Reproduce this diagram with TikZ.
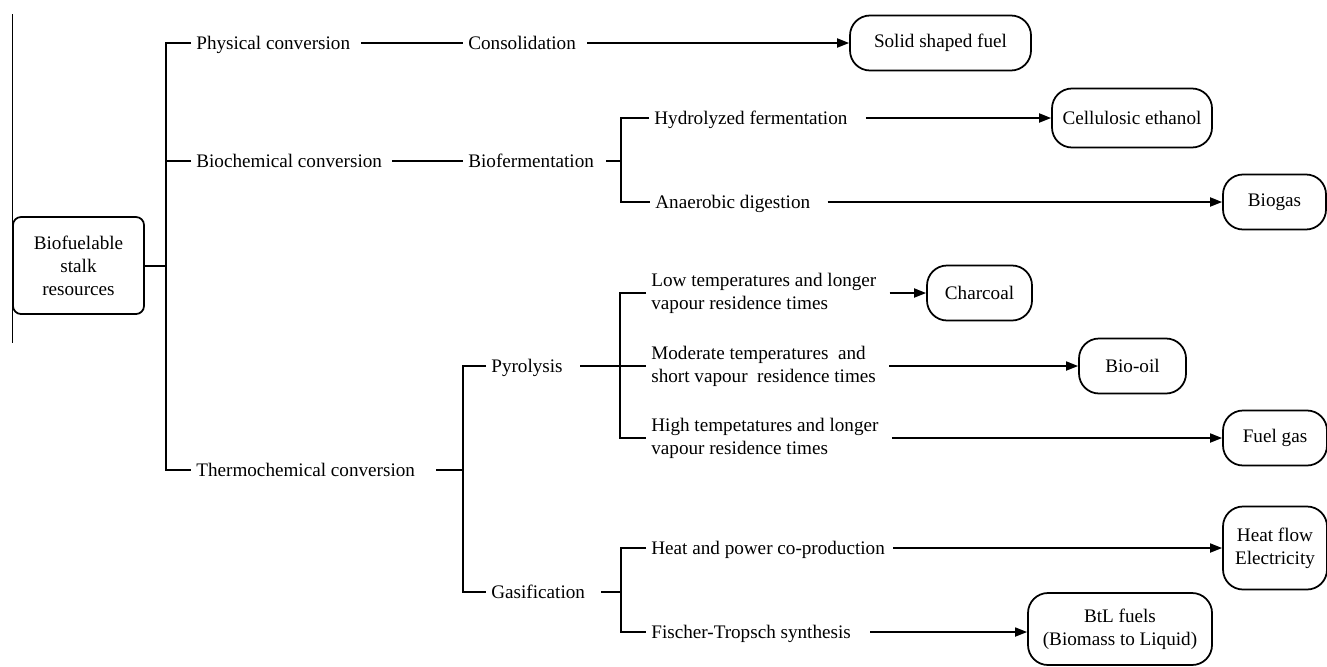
\documentclass[tikz,border=0pt]{standalone}
\usepackage{fontspec}
\setmainfont{Liberation Serif}
\usetikzlibrary{
    arrows.meta,
    positioning
}
\tikzset{
    % Box styles
    source box/.style={
        draw,
        line width=1pt,
        rectangle,
        rounded corners=1.6mm,
        inner sep=0pt,
        minimum width=26.2mm,
        minimum height=19.4mm,
        align=center
    },
    result box/.style={
        draw,
        line width=1pt,
        rectangle,
        rounded corners=4mm,
        inner sep=0pt,
        minimum height=11mm,
        align=center
    },
    % Label styles
    step label/.style={
        anchor=west,
        inner xsep=1mm,
        inner ysep=0pt,
        text height=1.5ex,
        text depth=0pt
    },
    step note/.style={
        anchor=west,
        inner xsep=1mm,
        inner ysep=0pt,
        align=left
    },
    % Arrow styles
    link line/.style={
        line width=1pt
    },
    flow arrow/.style={
        link line,
        -{Triangle[length=2.4mm,width=1.8mm]}
    }
}

\begin{document}
\begin{tikzpicture}[x=0.2mm, y=-0.2mm, font=\fontsize{10.9pt}{13pt}\selectfont]
        \useasboundingbox (0,0) rectangle (1327,666);
        \draw[line width=0.5pt] (12,14) -- (12,343);

        % Source
        \node[source box] (root) at (78.5,265.5) {Biofuelable\\stalk\\resources};

        % Conversion routes
        \node[step label] (phys)   at (191,43)  {Physical conversion};
        \node[step label] (bioch)  at (191,161) {Biochemical conversion};
        \node[step label] (thermo) at (191,470) {Thermochemical conversion};

        \node[step label] (consol) at (463,43)  {Consolidation};
        \node[step label] (biofer) at (463,161) {Biofermentation};
        \node[step label] (pyro)   at (486,366) {Pyrolysis};
        \node[step label] (gasif)  at (486,592) {Gasification};

        \node[step label] (hydro)  at (649,118) {Hydrolyzed fermentation};
        \node[step label] (anaer)  at (650,202) {Anaerobic digestion};
        \node[step note]  (low)    at (646,293) {Low temperatures and longer\\vapour residence times};
        \node[step note]  (mod)    at (646,366) {Moderate temperatures~ and\\short vapour~ residence times};
        \node[step note]  (high)   at (646,438) {High tempetatures and longer\\vapour residence times};
        \node[step label] (heat)   at (646,548) {Heat and power co-production};
        \node[step label] (fisch)  at (646,632) {Fischer-Tropsch synthesis};

        % Products
        \node[result box, minimum width=36.2mm] (solid)    at (940.5,43)    {Solid shaped fuel};
        \node[result box, minimum width=32mm, minimum height=11.8mm] (cellu) at (1132,118) {Cellulosic ethanol};
        \node[result box, minimum width=20.6mm] (biogas)   at (1274.5,202)  {Biogas};
        \node[result box, minimum width=21mm]   (charcoal) at (979.5,293)   {Charcoal};
        \node[result box, minimum width=21.4mm] (biooil)   at (1132.5,366)  {Bio-oil};
        \node[result box, minimum width=20.8mm] (fuelgas)  at (1275,438)    {Fuel gas};
        \node[result box, minimum width=20.8mm, minimum height=16.6mm] (heatflow) at (1275,548) {Heat flow\\Electricity};
        \node[result box, minimum width=36.8mm, minimum height=14.4mm] (btl) at (1120,629) {BtL fuels\\(Biomass to Liquid)};

        % Junctions
        \coordinate (j0) at (166,266);
        \coordinate (j1) at (621,161);
        \coordinate (j2) at (463,470);
        \coordinate (j3) at (620,366);
        \coordinate (j4) at (621,592);

        % Connections
        \draw[link line] (root) -- (j0);
        \draw[link line] (phys.west) -| (j0) |- (thermo.west);
        \draw[link line] (bioch.west) -- (bioch.west -| j0);

        \draw[link line, shorten <=1.2mm] (phys) -- (consol);
        \draw[link line, shorten <=1mm] (bioch) -- (biofer);
        \draw[link line, shorten <=3.2mm] (thermo) -- (j2);
        \draw[link line] (pyro.west) -| (j2) |- (gasif.west);

        \draw[link line, shorten <=1.4mm] (biofer) -- (j1);
        \draw[link line] (hydro.west) -| (j1) |- (anaer.west);
        \draw[link line, shorten <=2.4mm] (pyro) -- (mod);
        \draw[link line] (low.west) -| (j3) |- (high.west);
        \draw[link line, shorten <=2.2mm] (gasif) -- (j4);
        \draw[link line] (heat.west) -| (j4) |- (fisch.west);

        \draw[flow arrow, shorten <=1.2mm] (consol) -- (consol -| solid.west);
        \draw[flow arrow, shorten <=2.6mm] (hydro) -- (hydro -| cellu.west);
        \draw[flow arrow, shorten <=2.4mm] (anaer) -- (anaer -| biogas.west);
        \foreach \i/\j in {low/charcoal,mod/biooil,high/fuelgas} {
            \draw[flow arrow, shorten <=1.6mm] (\i) -- (\i -| \j.west);
        }
        \draw[flow arrow, shorten <=0.6mm] (heat) -- (heat -| heatflow.west);
        \draw[flow arrow, shorten <=2.8mm] (fisch) -- (fisch -| btl.west);
    \end{tikzpicture}
\end{document}
